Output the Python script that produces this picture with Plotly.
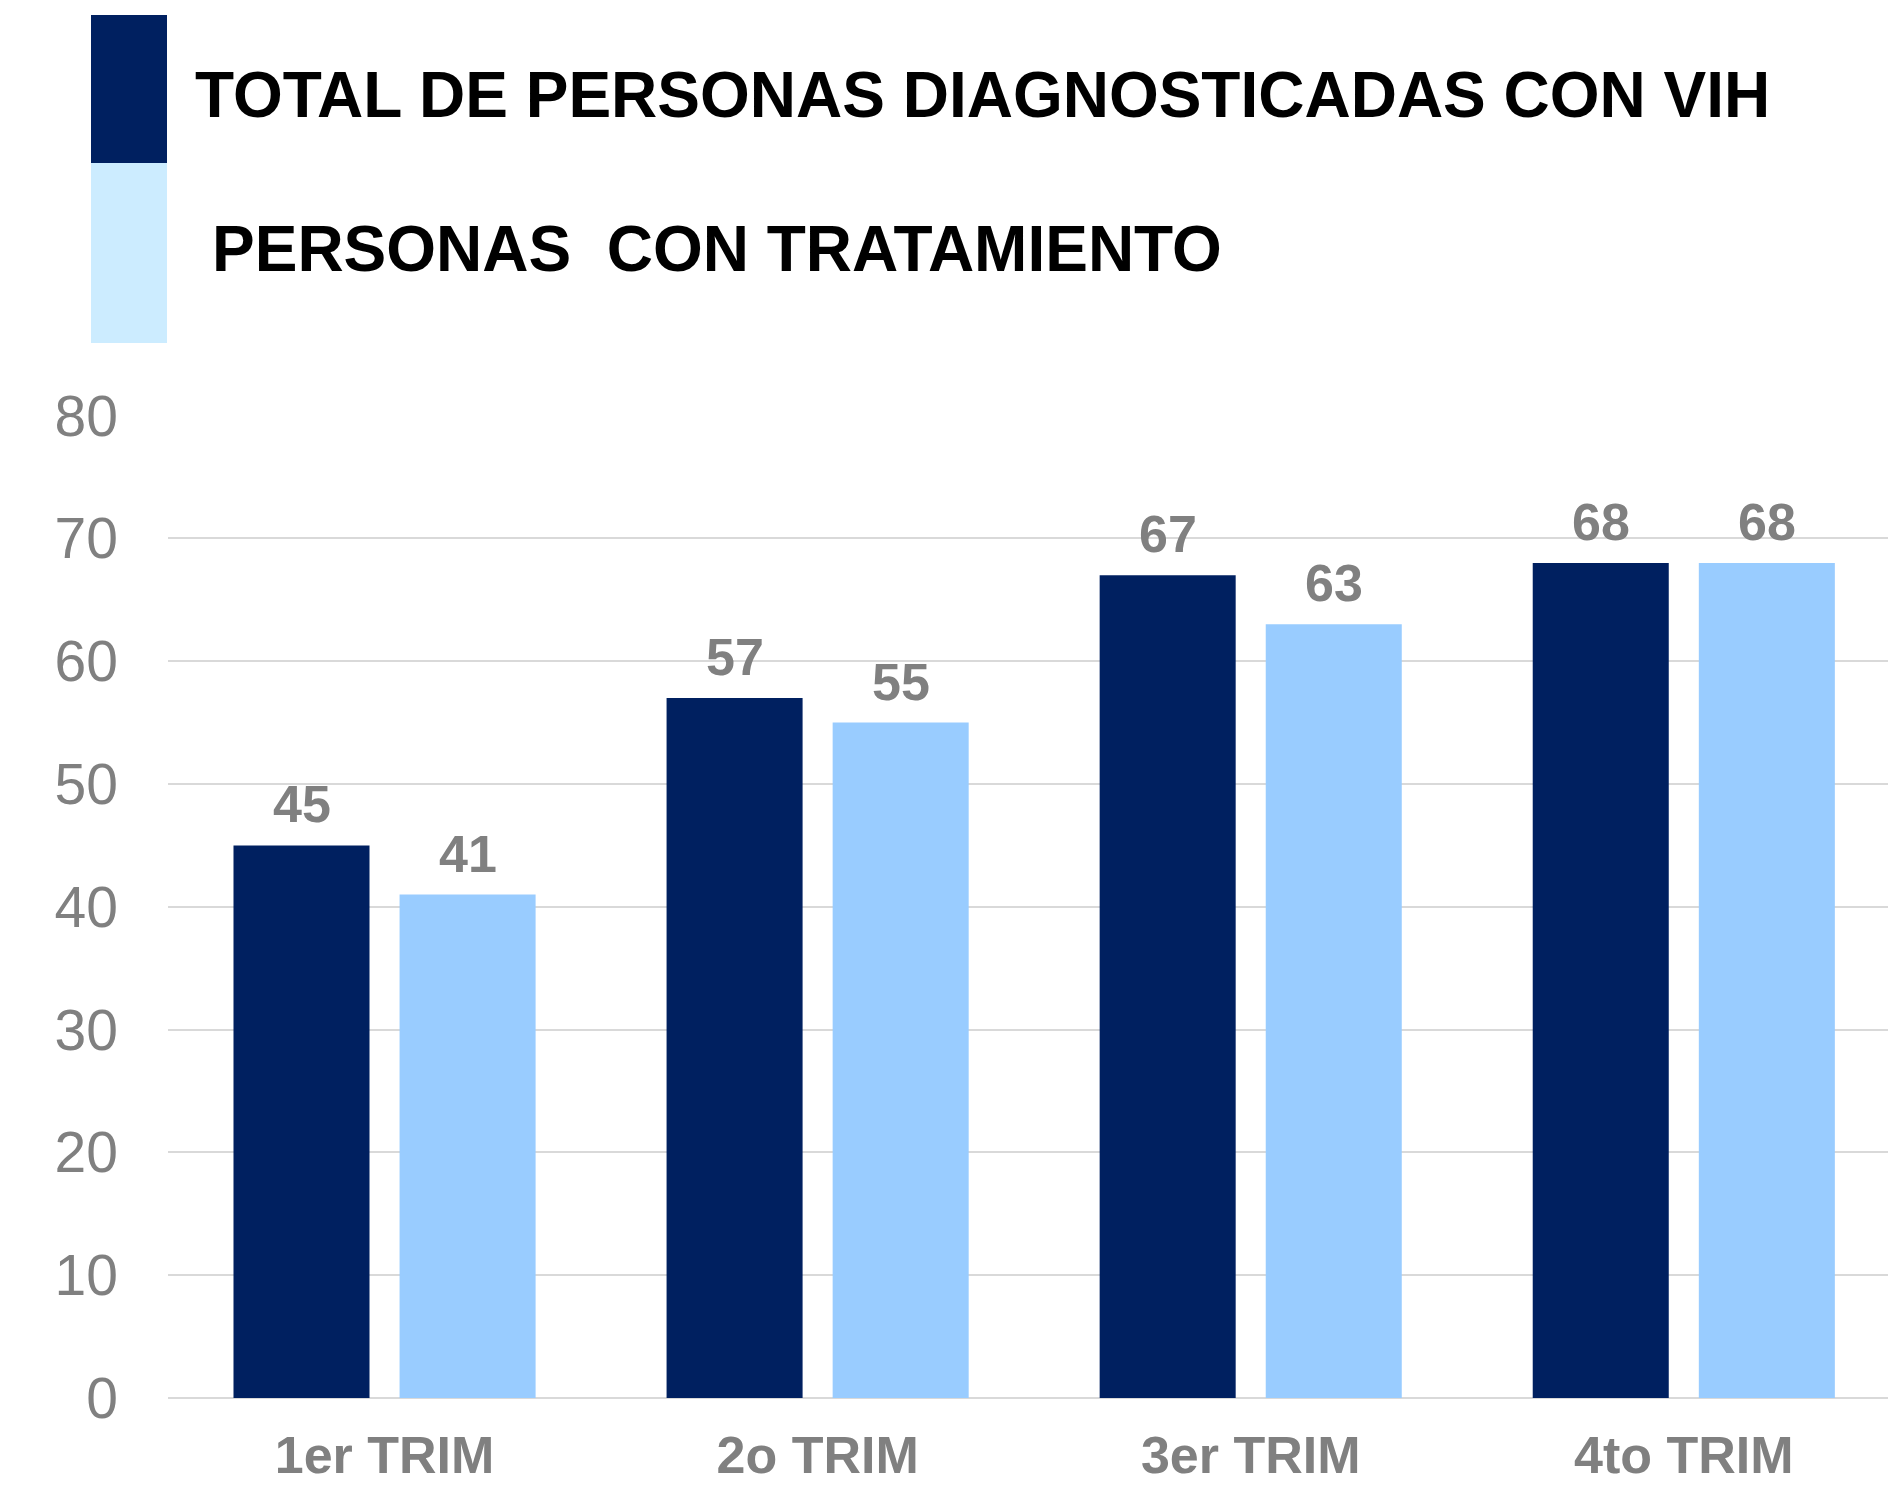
import plotly.graph_objects as go

categories = ["1er TRIM", "2o TRIM", "3er TRIM", "4to TRIM"]
total_diagnosticadas = [45, 57, 67, 68]
con_tratamiento = [41, 55, 63, 68]
series_names = ["TOTAL DE PERSONAS DIAGNOSTICADAS CON VIH", "PERSONAS  CON TRATAMIENTO"]
y_ticks = [0, 10, 20, 30, 40, 50, 60, 70, 80]

DARK = "#002060"
LIGHT = "#99CCFF"
LIGHT_SWATCH = "#CCECFF"
GRAY = "#808080"
FONT = "Liberation Sans, Arial, sans-serif"

# page has an 8px body margin; figure is sized so that it fills the window
OFF = 8
W, H = 1896 - OFF, 1487 - OFF
ML, MR, MT, MB = 168 - OFF, 0, 415 - OFF, 89
PW, PH = W - ML - MR, H - MT - MB

fig = go.Figure()
fig.add_trace(go.Bar(x=categories, y=total_diagnosticadas, name=series_names[0],
                     marker=dict(color=DARK, line=dict(width=0)), showlegend=False))
fig.add_trace(go.Bar(x=categories, y=con_tratamiento, name=series_names[1],
                     marker=dict(color=LIGHT, line=dict(width=0)), showlegend=False))

BARGAP = 0.233
offset = (1 - BARGAP) / 4
annotations = []
for i, c in enumerate(categories):
    for vals, dx in ((total_diagnosticadas, -offset), (con_tratamiento, offset)):
        annotations.append(dict(x=i + dx, y=vals[i], xref="x", yref="y", text=str(vals[i]),
                                showarrow=False, yanchor="bottom", xanchor="center", yshift=10,
                                font=dict(family=FONT, size=52, color=GRAY, weight="bold")))

def px_x(p):
    return (p - OFF - ML) / PW

def px_y(p):
    return (H - MB - (p - OFF)) / PH

shapes = [
    dict(type="rect", xref="paper", yref="paper", x0=px_x(91), x1=px_x(167), y0=px_y(163), y1=px_y(15),
         fillcolor=DARK, line=dict(width=0), layer="above"),
    dict(type="rect", xref="paper", yref="paper", x0=px_x(91), x1=px_x(167), y0=px_y(343), y1=px_y(163),
         fillcolor=LIGHT_SWATCH, line=dict(width=0), layer="above"),
]
annotations.append(dict(x=px_x(193), y=px_y(95), xref="paper", yref="paper", text="<b>" + series_names[0] + "</b>",
                        showarrow=False, xanchor="left", yanchor="middle",
                        font=dict(family=FONT, size=64, color="black")))
annotations.append(dict(x=px_x(210), y=px_y(249), xref="paper", yref="paper", text="<b>" + series_names[1].replace("  ", "&nbsp; ") + "</b>",
                        showarrow=False, xanchor="left", yanchor="middle",
                        font=dict(family=FONT, size=64, color="black")))

fig.update_layout(
    width=W, height=H,
    margin=dict(l=ML, r=MR, t=MT, b=MB, pad=0, autoexpand=False),
    paper_bgcolor="white", plot_bgcolor="white",
    barmode="group", bargap=BARGAP, bargroupgap=0.181,
    annotations=annotations, shapes=shapes,
    showlegend=False,
)
fig.update_xaxes(range=[-0.5, 3.49], showgrid=False, showline=False, zeroline=False, automargin=False,
                 tickfont=dict(family=FONT, size=52, color=GRAY, weight="bold"),
                 ticklabelstandoff=22)
fig.update_yaxes(range=[0, 80.05], tickvals=y_ticks, showgrid=True, gridcolor="#D9D9D9", gridwidth=2,
                 zeroline=True, zerolinecolor="#D9D9D9", zerolinewidth=2, showline=False, automargin=False,
                 tickfont=dict(family=FONT, size=57, color=GRAY),
                 ticklabelstandoff=49)

fig.write_html("out.html")
